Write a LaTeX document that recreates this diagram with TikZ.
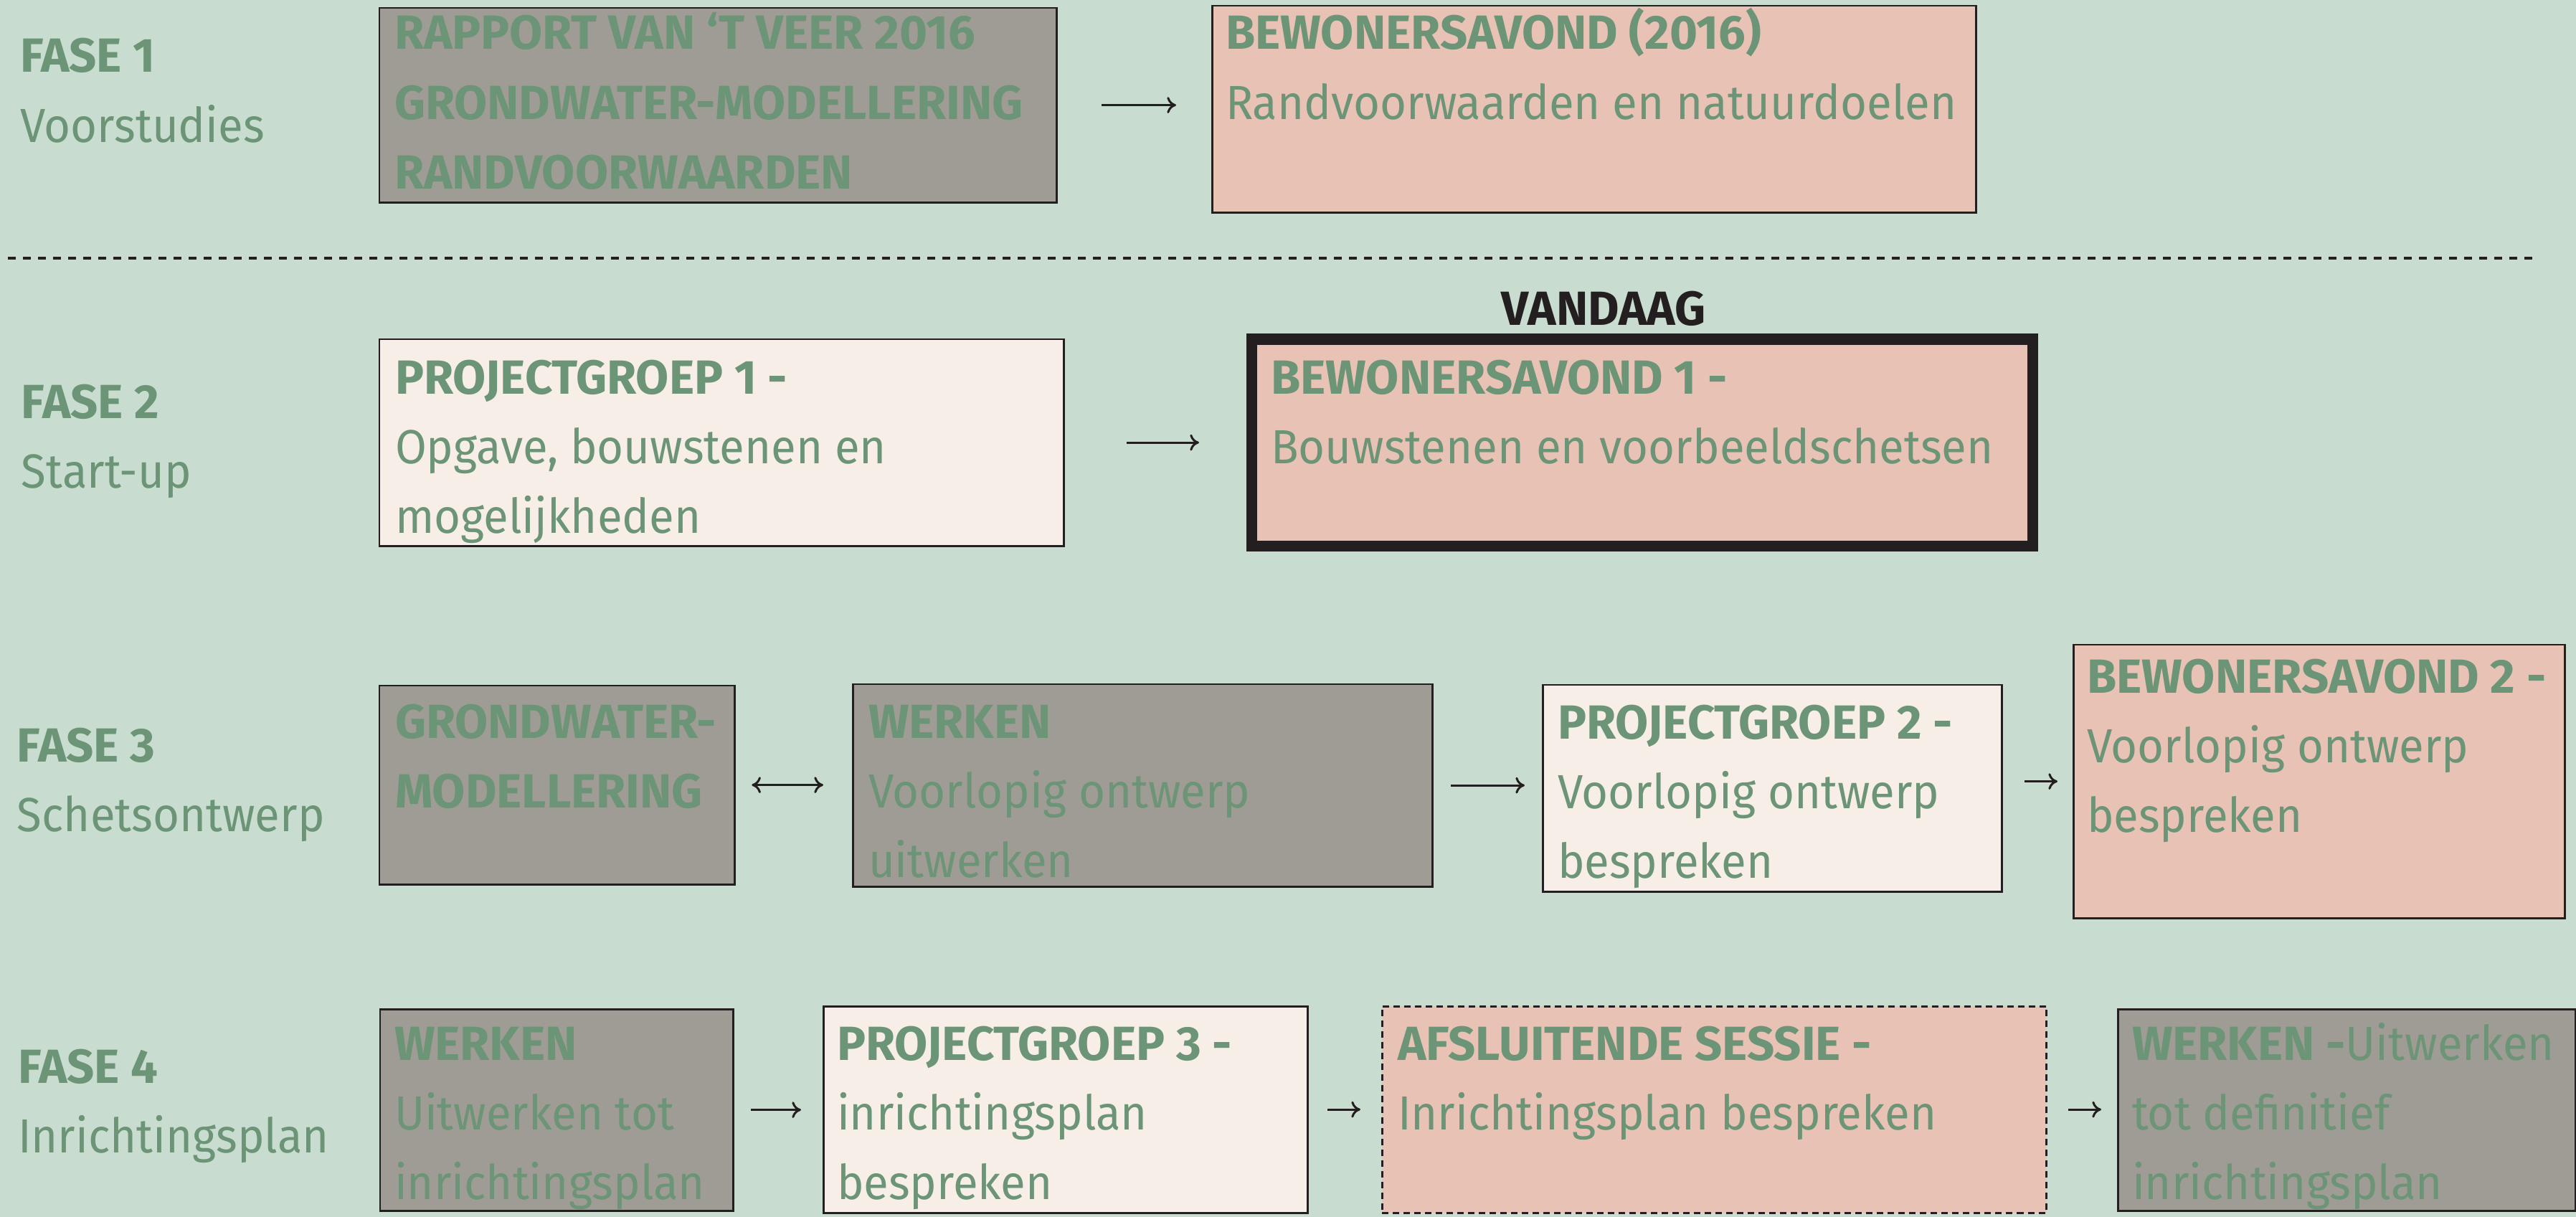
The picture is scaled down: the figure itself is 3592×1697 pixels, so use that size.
\documentclass[tikz,border=0pt]{standalone}
\usepackage{fontspec}
\setmainfont{Fira Sans}[UprightFeatures={FakeStretch=0.95}]
\usetikzlibrary{arrows.meta}
\definecolor{bg}{HTML}{C9DCD0}
\definecolor{txtgreen}{HTML}{6C9476}
\definecolor{greyfill}{HTML}{9F9C95}
\definecolor{pinkfill}{HTML}{E8C2B4}
\definecolor{creamfill}{HTML}{F6EEE7}
\definecolor{dark}{HTML}{231F20}
\newcommand\fstrut{\rule{0pt}{22pt}}
\tikzset{
  box/.style={draw=dark, line width=0.85pt, anchor=north west, inner sep=0pt, outer sep=0pt},
  gbox/.style={box, fill=greyfill},
  pbox/.style={box, fill=pinkfill},
  cbox/.style={box, fill=creamfill},
  txt/.style={anchor=north west, inner sep=0pt, outer sep=0pt, align=left, text=txtgreen,
    font=\fontsize{19}{27.6}\selectfont},
  cmtip/.tip={Computer Modern Rightarrow[length=3.6pt,width=6.5pt]},
  arr/.style={draw=dark, line width=0.85pt, -cmtip},
  darr/.style={draw=dark, line width=0.85pt, cmtip-cmtip},
  sepline/.style={draw=dark, line width=1.1pt, dash pattern=on 0.11cm off 0.10cm}
}
\begin{document}
\begin{tikzpicture}[x=0.01cm, y=-0.01cm]
\useasboundingbox (0,0) rectangle (3592,1697);
\fill[bg] (0,0) rectangle (3592,1697);

% phase labels
\node[txt] (f1) at ([yshift=22pt]28,101) {\fstrut\textbf{FASE 1}\\Voorstudies};
\node[txt] (f2) at ([yshift=22pt]30,583) {\fstrut\textbf{FASE 2}\\Start-up};
\node[txt] (f3) at ([yshift=22pt]24,1062) {\fstrut\textbf{FASE 3}\\Schetsontwerp};
\node[txt] (f4) at ([yshift=22pt]25,1510) {\fstrut\textbf{FASE 4}\\Inrichtingsplan};

% row 1
\node[gbox, minimum width=9.44cm, minimum height=2.71cm] (b1) at (529,11) {};
\node[txt] (t1) at ([yshift=22pt]550,69) {\fstrut\textbf{RAPPORT VAN ‘T VEER 2016}\\\textbf{GRONDWATER-MODELLERING}\\\textbf{RANDVOORWAARDEN}};
\node[pbox, minimum width=10.65cm, minimum height=2.88cm] (b2) at (1690,8) {};
\node[txt] (t2) at ([yshift=22pt]1709,69) {\fstrut\textbf{BEWONERSAVOND (2016)}\\Randvoorwaarden en natuurdoelen};
\draw[arr, shorten <=0.62cm, shorten >=0.5cm] (b1.east) -- (b1.east -| b2.west);

% separator
\coordinate (sepL) at (11,360);
\coordinate (sepR) at (3541,360);
\draw[sepline] (sepL) -- (sepR);

% row 2
\node[anchor=base west, inner sep=0pt, text=dark, font=\fontsize{19}{27.6}\selectfont\bfseries] (today) at (2093,453) {VANDAAG};
\node[cbox, minimum width=9.54cm, minimum height=2.88cm] (pg1) at (529,473) {};
\node[txt] (tpg1) at ([yshift=22pt]551,549) {\fstrut\textbf{PROJECTGROEP 1 -}\\Opgave, bouwstenen en\\mogelijkheden};
\node[pbox, line width=4.27pt, minimum width=10.89cm, minimum height=2.88cm] (bw1) at (1745,473) {};
\node[txt] (tbw1) at ([yshift=22pt]1772,549) {\fstrut\textbf{BEWONERSAVOND 1 -}\\Bouwstenen en voorbeeldschetsen};
\draw[arr, shorten <=0.87cm, shorten >=0.73cm] (pg1.east) -- (pg1.east -| bw1.west);

% row 3
\node[gbox, minimum width=4.95cm, minimum height=2.77cm] (gm) at (529,956) {};
\node[txt] (tgm) at ([yshift=22pt]551,1029) {\fstrut\textbf{GRONDWATER-}\\\textbf{MODELLERING}};
\node[gbox, minimum width=8.08cm, minimum height=2.82cm] (wk3) at (1189,954) {};
\node[txt] (twk3) at ([yshift=22pt]1211,1029) {\fstrut\textbf{WERKEN}\\Voorlopig ontwerp\\uitwerken};
\node[cbox, minimum width=6.40cm, minimum height=2.88cm] (pg2) at (2151,955) {};
\node[txt] (tpg2) at ([yshift=22pt]2172,1030) {\fstrut\textbf{PROJECTGROEP 2 -}\\Voorlopig ontwerp\\bespreken};
\node[pbox, minimum width=6.85cm, minimum height=3.81cm] (bw2) at (2891,899) {};
\node[txt] (tbw2) at ([yshift=22pt]2910,966) {\fstrut\textbf{BEWONERSAVOND 2 -}\\Voorlopig ontwerp\\bespreken};
\draw[darr, shorten <=0.24cm, shorten >=0.41cm] (gm.east) -- (gm.east -| wk3.west);
\draw[arr, shorten <=0.26cm, shorten >=0.25cm] (wk3.east) -- (wk3.east -| pg2.west);
\draw[arr, shorten <=0.32cm, shorten >=0.22cm] (bw2.west -| pg2.east) -- (bw2.west);

% row 4
\node[gbox, minimum width=4.92cm, minimum height=2.81cm] (wk4) at (530,1407) {};
\node[txt] (twk4) at ([yshift=22pt]550,1478) {\fstrut\textbf{WERKEN}\\Uitwerken tot\\inrichtingsplan};
\node[cbox, minimum width=6.75cm, minimum height=2.88cm] (pg3) at (1148,1403) {};
\node[txt] (tpg3) at ([yshift=22pt]1167,1478) {\fstrut\textbf{PROJECTGROEP 3 -}\\inrichtingsplan\\bespreken};
\node[pbox, dash pattern=on 0.09cm off 0.06cm, minimum width=9.26cm, minimum height=2.88cm] (afs) at (1927,1403) {};
\node[txt] (tafs) at ([yshift=22pt]1949,1478) {\fstrut\textbf{AFSLUITENDE SESSIE -}\\Inrichtingsplan bespreken};
\node[gbox, minimum width=6.38cm, minimum height=2.81cm] (wk5) at (2953,1407) {};
\node[txt] (twk5) at ([yshift=22pt]2973,1478) {\fstrut\textbf{WERKEN -}Uitwerken\\tot definitief\\inrichtingsplan};
\draw[arr, shorten <=0.25cm, shorten >=0.31cm] (wk4.east) -- (wk4.east -| pg3.west);
\draw[arr, shorten <=0.28cm, shorten >=0.30cm] (pg3.east) -- (pg3.east -| afs.west);
\draw[arr, shorten <=0.30cm, shorten >=0.23cm] (afs.east) -- (afs.east -| wk5.west);
\end{tikzpicture}
\end{document}
